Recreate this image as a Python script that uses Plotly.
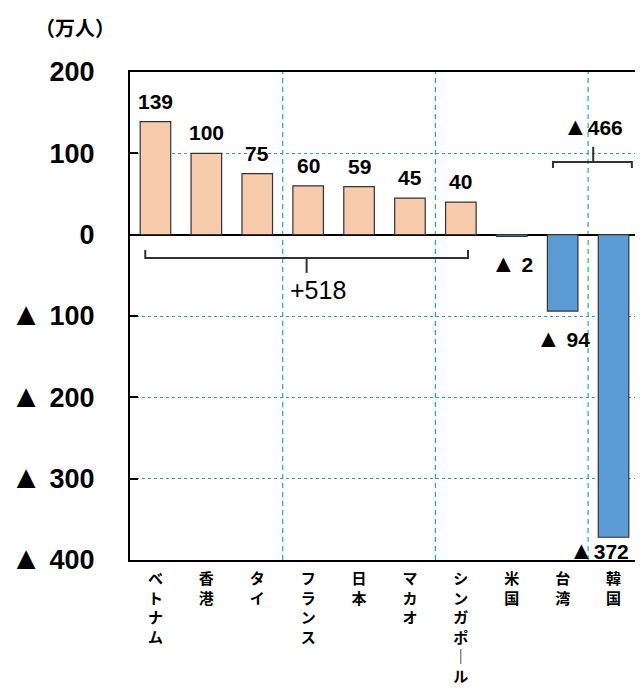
import plotly.graph_objects as go

categories = ["ベトナム", "香港", "タイ", "フランス", "日本", "マカオ", "シンガポール", "米国", "台湾", "韓国"]
values = [139, 100, 75, 60, 59, 45, 40, -2, -94, -372]
value_labels = ["139", "100", "75", "60", "59", "45", "40", "▲ 2", "▲ 94", "▲372"]
y_tickvals = [200, 100, 0, -100, -200, -300, -400]
y_ticktext = ["200", "100", "0", "▲ 100", "▲ 200", "▲ 300", "▲ 400"]
sum_positive_label = "+518"
sum_negative_label = "▲466"
unit_label = "（万人）"

x = list(range(len(categories)))
colors = ["#F8CBAD" if v >= 0 else "#5B9BD5" for v in values]


def vertical(s):
    return "<br>".join("｜" if c == "ー" else c for c in s)


def big_tri(s, px):
    return s.replace("▲", '<span style="font-size:%dpx">▲</span>' % px)


fig = go.Figure()
fig.add_trace(go.Bar(
    x=x, y=values, width=0.6,
    marker=dict(color=colors, line=dict(color="#333333", width=1.2)),
    showlegend=False, hoverinfo="skip",
))

grid_color = "#2FAE7E"
# vertical dashed separators
for xv in [2.5, 5.5, 8.5]:
    fig.add_shape(type="line", xref="x", yref="y", x0=xv, x1=xv, y0=-400, y1=200,
                  line=dict(color=grid_color, width=1.2, dash="5px,4px"), layer="below")

label_font = dict(family="Liberation Sans", size=21, color="black", weight="bold")
for xi, v, t in zip(x, values, value_labels):
    if v >= 0:
        fig.add_annotation(x=xi, y=v, text=t, showarrow=False, yanchor="bottom",
                           yshift=7, font=label_font)
    else:
        xs = -15 if v < -300 else 0
        ys = -13 if v < -300 else -27
        fig.add_annotation(x=xi, y=v, text=big_tri(t, 25), showarrow=False, yanchor="middle",
                           yshift=ys, xshift=xs, font=label_font)

# bracket under positive bars
br = dict(color="#333333", width=2)
fig.add_shape(type="path", xref="x", yref="y",
              path="M -0.2,-19 L -0.2,-28.6 L 6.14,-28.6 L 6.14,-19", line=br)
fig.add_shape(type="line", xref="x", yref="y", x0=2.97, x1=2.97, y0=-28.6, y1=-47, line=br)
fig.add_annotation(x=3.2, y=-68, text=sum_positive_label, showarrow=False,
                   font=dict(family="Liberation Sans", size=25, color="black"))

# bracket over negative bars
fig.add_shape(type="path", xref="x", yref="y",
              path="M 7.81,82 L 7.81,89.4 L 9.36,89.4 L 9.36,82", line=br)
fig.add_shape(type="line", xref="x", yref="y", x0=8.6, x1=8.6, y0=89.4, y1=108, line=br)
fig.add_annotation(x=8.6, y=134, text=big_tri(sum_negative_label, 25), showarrow=False,
                   font=dict(family="Liberation Sans", size=21, color="black", weight="bold"))

fig.add_annotation(xref="paper", yref="paper", x=-0.108, y=1.125, xanchor="center",
                   yanchor="top", text=unit_label, showarrow=False,
                   font=dict(family="Noto Sans CJK JP", size=20, color="black", weight="bold"))

fig.update_xaxes(
    range=[-0.5, 9.5], tickvals=x, ticktext=[vertical(c) for c in categories],
    tickfont=dict(family="Noto Sans CJK JP", size=15, color="black", weight="bold"),
    showline=True, linecolor="black", linewidth=2, mirror=True,
    showgrid=False, zeroline=False, ticks="", ticklabelstandoff=4, automargin=False,
)
fig.update_yaxes(
    range=[-400, 200], tickvals=y_tickvals, ticktext=[big_tri(t, 32) for t in y_ticktext],
    tickfont=dict(family="Liberation Sans", size=27, color="black", weight="bold"),
    showline=True, linecolor="black", linewidth=2, mirror=True,
    ticks="inside", ticklen=8, tickwidth=2, tickcolor="black",
    showgrid=True, gridcolor=grid_color, gridwidth=1, griddash="dot",
    zeroline=True, zerolinecolor="black", zerolinewidth=2,
    ticklabelstandoff=28, automargin=False,
)
# page body has an 8px margin, so the figure is sized/offset to compensate
fig.update_layout(
    width=635, height=685,
    margin=dict(l=122, r=4, t=64, b=133),
    plot_bgcolor="white", paper_bgcolor="white",
    bargap=0.4,
)
fig.write_html("out.html")
